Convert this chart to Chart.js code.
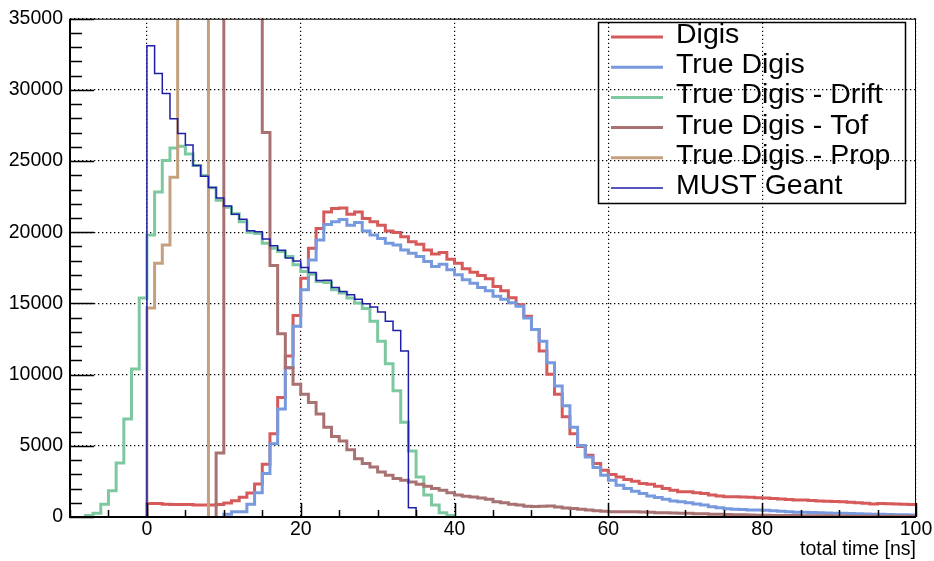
<!DOCTYPE html>
<html lang="en">
<head>
    <meta charset="UTF-8">
    <title>Total time</title>
    <script src="https://cdn.jsdelivr.net/npm/chart.js"></script>
    <style>
        html, body { margin: 0; padding: 0; background: #fff; }
        #timeChart { display: block; }
    </style>
</head>
<body>
    <canvas id="timeChart" width="934" height="561"></canvas>

    <script>
        // Axis ranges and labelled ticks
        const xMin = -10, xMax = 100;
        const yMin = 0, yMax = 35000;
        const xTickValues = [0, 20, 40, 60, 80, 100];
        const yTickValues = [0, 5000, 10000, 15000, 20000, 25000, 30000, 35000];

        const seriesNames = ['Digis', 'True Digis', 'True Digis - Drift', 'True Digis - Tof', 'True Digis - Prop', 'MUST Geant'];

        // Histogram contents, 1 ns bins, each array starts at its first bin
        const digisFirstBin = 0;
        const digis = [950, 950, 900, 880, 880, 880, 850, 850, 850, 880,
            990, 1150, 1380, 1690, 2310, 3710, 5850, 8400, 11310, 14160,
            16770, 18870, 20260, 21430, 21660, 21710, 21270, 21430, 20960, 20730,
            20500, 20080, 19980, 19680, 19330, 19150, 18750, 18480, 18570, 18100,
            17820, 17430, 17190, 16960, 16730, 16190, 15900, 15400, 14900, 14100,
            13170, 11660, 10030, 8630, 7050, 5840, 4960, 4330, 3750, 3280,
            2980, 2810, 2630, 2510, 2350, 2300, 2160, 2000, 1880, 1770,
            1770, 1700, 1650, 1540, 1470, 1420, 1420, 1400, 1380, 1350,
            1340, 1300, 1260, 1230, 1200, 1190, 1160, 1130, 1100, 1080,
            1070, 1040, 1000, 960, 920, 940, 930, 910, 900, 880];

        const trueDigisFirstBin = 10;
        const trueDigis = [200, 370, 370, 900, 1700, 3050, 5140, 7590, 10490, 13400,
            15960, 18060, 19450, 20540, 20730, 20890, 20500, 20680, 20080, 19800,
            19560, 19220, 19100, 18750, 18520, 18290, 17940, 17590, 17750, 17360,
            17010, 16660, 16420, 16120, 15890, 15500, 15300, 15050, 14800, 13980,
            13170, 12350, 10840, 9210, 7820, 6300, 5030, 4210, 3470, 2930,
            2580, 2230, 2000, 1810, 1650, 1470, 1370, 1240, 1120, 1070,
            1000, 910, 840, 720, 650, 580, 540, 520, 500, 490,
            480, 440, 400, 370, 340, 330, 310, 290, 280, 270,
            260, 240, 220, 210, 200, 190, 170, 160, 150, 140];

        const driftFirstBin = -8;
        const drift = [100, 260, 900, 1840, 3790, 6890, 10400, 15380,
            19800, 22820, 25040, 25920, 26040, 25500, 24690, 23990, 23130, 22250,
            21750, 21300, 20730, 20000, 19910, 19220, 18870, 18640, 18290, 17710,
            17240, 17050, 16540, 16470, 15960, 15730, 15380, 15030, 14640, 13750,
            12350, 10770, 8860, 6650, 4630, 2810, 1540, 840, 300, 100];

        // bins 10-14 run off the top of the frame
        const tofFirstBin = 9;
        const tof = [4490, 60000, 60000, 60000, 60000, 60000, 27010, 17660, 12870, 10490,
            9330, 8630, 8050, 7240, 6300, 5650, 5330, 4730, 4100, 3750,
            3510, 3160, 2930, 2700, 2580, 2460, 2300, 2160, 2000, 1880,
            1700, 1540, 1450, 1400, 1330, 1240, 1070, 1000, 900, 850,
            750, 740, 760, 770, 700, 640, 600, 540, 490, 440,
            400, 370, 370, 360, 360, 350, 340, 300, 290, 280,
            270, 260, 230, 220, 200, 190, 180, 160, 150, 140,
            130, 120, 110, 110, 100, 100, 90, 90, 80, 80,
            70, 70, 60, 60, 60, 60, 50, 50, 50, 50, 50];

        // bins 4-7 run off the top of the frame
        const propFirstBin = 0;
        const prop = [14680, 17820, 19100, 23870, 60000, 60000, 60000, 60000];

        const mustFirstBin = 0;
        const must = [33100, 31150, 29750, 27970, 26940, 26130, 24690, 23940, 23150, 22400,
            21850, 21270, 20920, 20100, 20030, 19520, 19060, 18730, 18200, 17980,
            17520, 17170, 16610, 16630, 16120, 15840, 15610, 15290, 14980, 14750,
            14400, 13750, 13100, 11660, 650];

        const seriesColors = ['#d65a5a', '#7799dd', '#7ec8a0', '#a87272', '#c4a080', '#1e1ea6'];
        const seriesWidths = [3, 3, 3, 3, 3, 1.5];

        // Turn bin contents into outline points (value sits on the bin's left edge)
        function histPoints(firstBin, values) {
            const pts = [{ x: firstBin, y: 0 }];
            values.forEach((v, i) => pts.push({ x: firstBin + i, y: v }));
            const end = firstBin + values.length;
            if (end >= xMax) {
                pts.push({ x: xMax, y: values[values.length - 1] });
            } else {
                pts.push({ x: end, y: 0 });
            }
            return pts;
        }

        const seriesData = [
            histPoints(digisFirstBin, digis),
            histPoints(trueDigisFirstBin, trueDigis),
            histPoints(driftFirstBin, drift),
            histPoints(tofFirstBin, tof),
            histPoints(propFirstBin, prop),
            histPoints(mustFirstBin, must)
        ];

        // Frame, inward ticks and the boxed legend, ROOT style
        const rootFrame = {
            id: 'rootFrame',
            afterDatasetsDraw(chart) {
                const { ctx, chartArea: a, scales: { x, y } } = chart;
                ctx.save();
                ctx.strokeStyle = '#000';
                ctx.lineWidth = 1;
                ctx.strokeRect(a.left + 0.5, a.top + 0.5, a.right - a.left - 1, a.bottom - a.top - 1);

                ctx.lineWidth = 2;
                ctx.beginPath();
                ctx.moveTo(a.left, a.top);
                ctx.lineTo(a.left, a.bottom);
                ctx.lineTo(a.right, a.bottom);
                ctx.stroke();

                ctx.lineWidth = 1.5;
                ctx.beginPath();
                for (let v = xMin; v <= xMax; v += 5) {
                    const px = Math.round(x.getPixelForValue(v)) + 0.5;
                    const len = v % 20 === 0 ? 14 : 7;
                    ctx.moveTo(px, a.bottom);
                    ctx.lineTo(px, a.bottom - len);
                }
                for (let v = yMin; v <= yMax; v += 1000) {
                    const py = Math.round(y.getPixelForValue(v)) + 0.5;
                    const len = v % 5000 === 0 ? 24 : 12;
                    ctx.moveTo(a.left, py);
                    ctx.lineTo(a.left + len, py);
                }
                ctx.stroke();
                ctx.restore();
            },
            afterDraw(chart) {
                const ctx = chart.ctx;
                const boxLeft = 598.5, boxTop = 22.5, boxW = 307, boxH = 181;
                ctx.save();
                ctx.strokeStyle = '#000';
                ctx.lineWidth = 1.5;
                ctx.strokeRect(boxLeft, boxTop, boxW, boxH);

                ctx.font = '28.5px "Liberation Sans", Arial, sans-serif';
                ctx.fillStyle = '#000';
                ctx.textAlign = 'left';
                ctx.textBaseline = 'alphabetic';
                chart.data.datasets.forEach((ds, i) => {
                    const rowY = 37 + i * 30.2;
                    ctx.strokeStyle = ds.borderColor;
                    ctx.lineWidth = ds.borderWidth;
                    ctx.beginPath();
                    ctx.moveTo(611, rowY);
                    ctx.lineTo(663, rowY);
                    ctx.stroke();
                    ctx.fillText(ds.label, 676, rowY + 6);
                });
                ctx.restore();
            }
        };

        Chart.defaults.font.family = '"Liberation Sans", Arial, sans-serif';
        Chart.defaults.color = '#000';

        const ctx = document.getElementById('timeChart').getContext('2d');
        const timeChart = new Chart(ctx, {
            type: 'line',
            data: {
                datasets: seriesNames.map((name, i) => ({
                    label: name,
                    data: seriesData[i],
                    borderColor: seriesColors[i],
                    borderWidth: seriesWidths[i],
                    stepped: 'before',
                    pointRadius: 0,
                    fill: false,
                    tension: 0,
                    clip: 0,
                    order: seriesNames.length - i
                }))
            },
            options: {
                responsive: false,
                animation: false,
                devicePixelRatio: 1,
                layout: {
                    padding: { left: 0, top: 16, right: 18, bottom: 0 }
                },
                plugins: {
                    legend: { display: false },
                    tooltip: { enabled: false }
                },
                scales: {
                    x: {
                        type: 'linear',
                        min: xMin,
                        max: xMax,
                        afterBuildTicks: scale => { scale.ticks = xTickValues.map(v => ({ value: v })); },
                        afterFit: scale => { scale.height = 44; },
                        grid: { color: '#000', lineWidth: 1.2, drawTicks: false },
                        border: { display: false, dash: [1.3, 2.7] },
                        ticks: {
                            font: { size: 19.5 },
                            padding: 1,
                            maxRotation: 0,
                            callback: v => String(v)
                        },
                        title: {
                            display: true,
                            text: 'total time [ns]',
                            align: 'end',
                            font: { size: 19.5 },
                            padding: { top: 0, bottom: 0 }
                        }
                    },
                    y: {
                        type: 'linear',
                        min: yMin,
                        max: yMax,
                        afterBuildTicks: scale => { scale.ticks = yTickValues.map(v => ({ value: v })); },
                        afterFit: scale => { scale.width = 70; },
                        grid: { color: '#000', lineWidth: 1.2, drawTicks: false },
                        border: { display: false, dash: [1.3, 2.7] },
                        ticks: {
                            font: { size: 19.5 },
                            padding: 7,
                            callback: v => String(v)
                        }
                    }
                }
            },
            plugins: [rootFrame]
        });
    </script>
</body>
</html>
